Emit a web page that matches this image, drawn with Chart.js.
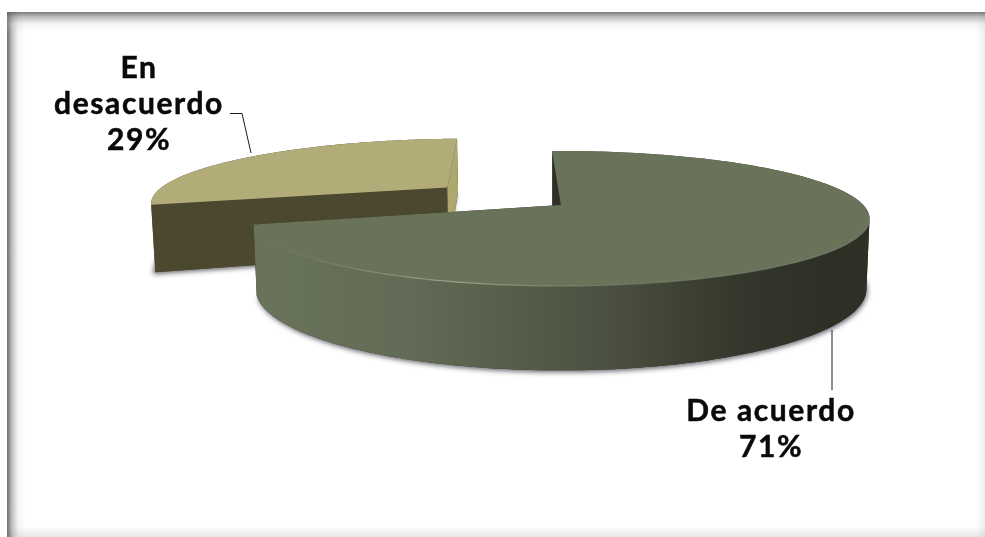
<!DOCTYPE html>
<html>
<head>
<meta charset="utf-8">
<title>De acuerdo / En desacuerdo</title>
<script src="https://cdn.jsdelivr.net/npm/chart.js@4"></script>
<style>
  html, body { margin: 0; padding: 0; background: #fff; overflow: hidden; }
  #wrap { position: relative; width: 985px; height: 537px; }
  #frame {
    position: absolute; left: 7px; top: 12px; right: 0; bottom: 0;
    background:
      linear-gradient(to bottom, rgba(90,90,90,.8) 0, rgba(130,130,130,.5) 5px, rgba(200,200,200,.2) 12px, rgba(255,255,255,0) 20px),
      linear-gradient(to right, rgba(90,90,90,.8) 1px, rgba(130,130,130,.5) 5px, rgba(200,200,200,.2) 11px, rgba(255,255,255,0) 18px),
      linear-gradient(to left, rgba(0,0,0,.07) 0, rgba(0,0,0,0) 9px),
      linear-gradient(to top, rgba(0,0,0,.09) 0, rgba(0,0,0,0) 11px),
      #fff;
  }
  canvas { position: absolute; left: 0; top: 0; }
</style>
</head>
<body>
<div id="wrap">
  <div id="frame"></div>
  <canvas id="pie" width="985" height="537"></canvas>
</div>
<script>
const categories = ["De acuerdo", "En desacuerdo"];
const values = [71, 29];
const percentLabels = ["71%", "29%"];
const topColors = ["#68735a", "#b2ac78"];
const startCutColors = ["#2f3127", "#4c4830"];
const endCutColors = ["#2f3127", "#aea76e"];
const explode = [0, 0.49];

// perspective of the disc, apex of the pie is at (CX, CY)
const CX = 561, CY = 205, RX = 302.3, RY = 64.8, TILT = 0.2, DEPTH = 67.5;

function project(u, v, z) {
  const w = 1 - TILT * v;
  return [CX + (RX * u / w) * (1 - z * 0.01), CY + (RY * v + DEPTH * z) / w];
}

function rimPoints(arc, ex, z, keep) {
  const pts = [];
  const steps = 200;
  for (let i = 0; i <= steps; i++) {
    const a = arc.startAngle + (arc.endAngle - arc.startAngle) * i / steps;
    const v = Math.sin(a) + ex[1];
    if (keep && !keep(v)) continue;
    pts.push(project(Math.cos(a) + ex[0], v, z));
  }
  return pts;
}

function fillPoly(ctx, pts, color) {
  if (!pts.length) return;
  ctx.beginPath();
  pts.forEach((p, i) => (i ? ctx.lineTo(p[0], p[1]) : ctx.moveTo(p[0], p[1])));
  ctx.closePath();
  ctx.fillStyle = color;
  ctx.fill();
}

function drawSlice(ctx, arc, index) {
  const mid = (arc.startAngle + arc.endAngle) / 2;
  const ex = [Math.cos(mid) * explode[index], Math.sin(mid) * explode[index]];
  const top = rimPoints(arc, ex, 0);
  const bottom = rimPoints(arc, ex, 1);
  const apexTop = project(ex[0], ex[1], 0);
  const apexBottom = project(ex[0], ex[1], 1);

  // soft shadow under the slice
  ctx.save();
  ctx.shadowColor = "rgba(40,40,50,0.7)";
  ctx.shadowBlur = 5;
  ctx.shadowOffsetX = index ? -2 : 1;
  ctx.shadowOffsetY = 2;
  fillPoly(ctx, [apexBottom].concat(bottom), startCutColors[index]);
  ctx.restore();

  // outer wall, lit from the left
  let wall = startCutColors[index];
  if (index === 0) {
    wall = ctx.createLinearGradient(CX - 290, 0, CX + 270, 0);
    wall.addColorStop(0, "#68735a");
    wall.addColorStop(0.25, "#626b55");
    wall.addColorStop(0.6, "#4b5040");
    wall.addColorStop(0.85, "#33362a");
    wall.addColorStop(1, "#2e3026");
  }
  const isBack = (v) => v < TILT;
  const isFront = (v) => v >= TILT;

  // back part of the wall goes behind the cut faces, front part over them
  const backTop = rimPoints(arc, ex, 0, isBack);
  const backBottom = rimPoints(arc, ex, 1, isBack);
  fillPoly(ctx, backTop.concat(backBottom.reverse()), wall);

  fillPoly(ctx, [top[0], apexTop, apexBottom, bottom[0]], startCutColors[index]);
  fillPoly(ctx, [top[top.length - 1], apexTop, apexBottom, bottom[bottom.length - 1]], endCutColors[index]);

  const frontTop = rimPoints(arc, ex, 0, isFront);
  const frontBottom = rimPoints(arc, ex, 1, isFront);
  fillPoly(ctx, frontTop.concat(frontBottom.reverse()), wall);

  // top face
  fillPoly(ctx, [apexTop].concat(top), arc.options.backgroundColor);

  // thin bevel along the front rim of the big slice
  if (index === 0) {
    const rim = ctx.createLinearGradient(CX - 300, 0, CX + 310, 0);
    rim.addColorStop(0, "rgba(150,160,130,0.15)");
    rim.addColorStop(0.3, "rgba(170,180,150,0.8)");
    rim.addColorStop(0.6, "rgba(130,140,115,0.5)");
    rim.addColorStop(1, "rgba(130,135,120,0.7)");
    ctx.beginPath();
    frontTop.forEach((p, i) => (i ? ctx.lineTo(p[0], p[1]) : ctx.moveTo(p[0], p[1])));
    ctx.strokeStyle = rim;
    ctx.lineWidth = 1.2;
    ctx.stroke();
  }
}

function drawLabel(ctx, lines, x, baseline) {
  ctx.font = "bold 30px Lato, sans-serif";
  ctx.letterSpacing = "1.6px";
  ctx.textAlign = "center";
  ctx.textBaseline = "alphabetic";
  ctx.fillStyle = "#0a0a0a";
  ctx.strokeStyle = "#0a0a0a";
  ctx.lineWidth = 0.5;
  lines.forEach((t, i) => {
    ctx.fillText(t, x, baseline + i * 36);
    ctx.strokeText(t, x, baseline + i * 36);
  });
}

function drawLeader(ctx, pts) {
  ctx.beginPath();
  pts.forEach((p, i) => (i ? ctx.lineTo(p[0], p[1]) : ctx.moveTo(p[0], p[1])));
  ctx.strokeStyle = "#1c1c1c";
  ctx.lineWidth = 1;
  ctx.stroke();
}

const pie3d = {
  id: "pie3d",
  beforeDatasetDraw(chart, args) {
    const ctx = chart.ctx;
    const arcs = chart.getDatasetMeta(args.index).data;
    ctx.save();
    // far slice first, the big one sits in front of it
    drawSlice(ctx, arcs[1], 1);
    drawSlice(ctx, arcs[0], 0);
    ctx.restore();
    return false;
  },
  afterDraw(chart) {
    const ctx = chart.ctx;
    ctx.save();
    drawLeader(ctx, [[230, 113.5], [242, 113.5], [251, 153]]);
    drawLeader(ctx, [[832, 330], [832, 390]]);
    drawLabel(ctx, ["En", "desacuerdo", percentLabels[1]], 139, 78);
    drawLabel(ctx, [categories[0], percentLabels[0]], 771, 421);
    ctx.restore();
  },
};

new Chart(document.getElementById("pie").getContext("2d"), {
  type: "pie",
  data: {
    labels: categories,
    datasets: [{ data: values, backgroundColor: topColors, borderWidth: 0 }],
  },
  options: {
    responsive: false,
    animation: false,
    rotation: -2,
    plugins: { legend: { display: false }, tooltip: { enabled: false } },
  },
  plugins: [pie3d],
});
</script>
</body>
</html>
